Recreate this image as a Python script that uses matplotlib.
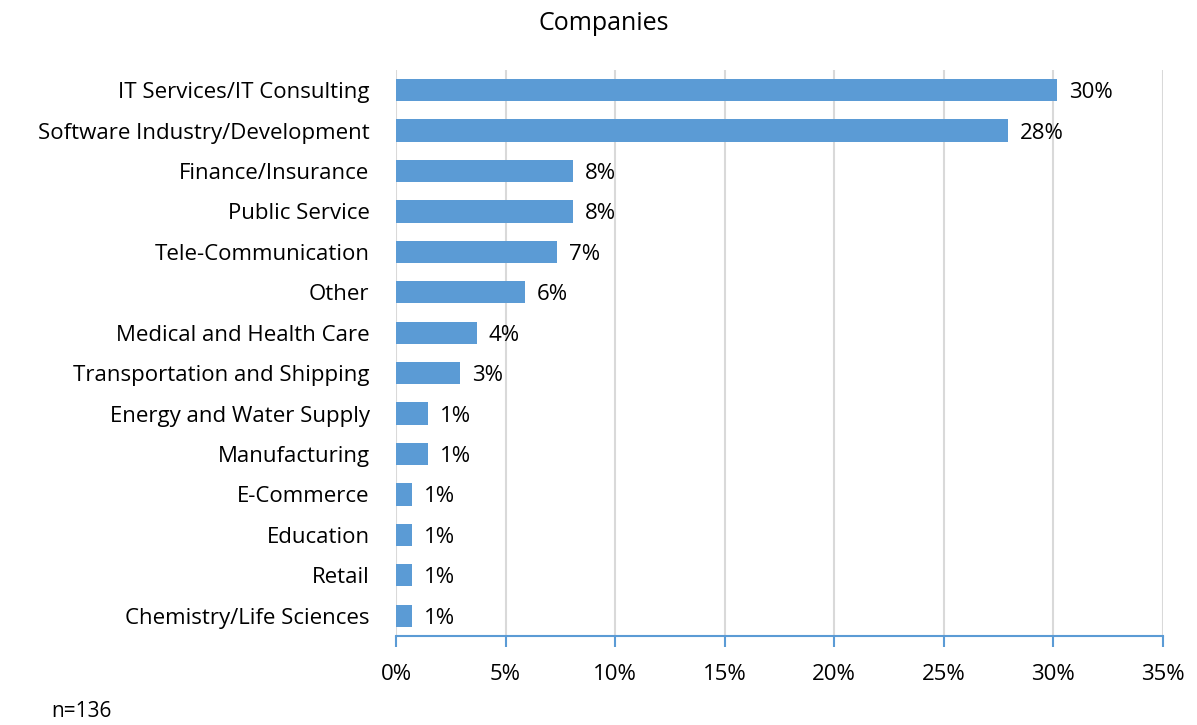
import matplotlib
matplotlib.use("Agg")
import matplotlib.pyplot as plt
from matplotlib.ticker import FuncFormatter

BLUE = "#5B9BD5"
GRID = "#D9D9D9"

N_TOTAL = 136
industries = [
    "IT Services/IT Consulting",
    "Software Industry/Development",
    "Finance/Insurance",
    "Public Service",
    "Tele-Communication",
    "Other",
    "Medical and Health Care",
    "Transportation and Shipping",
    "Energy and Water Supply",
    "Manufacturing",
    "E-Commerce",
    "Education",
    "Retail",
    "Chemistry/Life Sciences",
]
counts = [41, 38, 11, 11, 10, 8, 5, 4, 2, 2, 1, 1, 1, 1]
shares = [c / N_TOTAL * 100 for c in counts]
x_ticks = [0, 5, 10, 15, 20, 25, 30, 35]

plt.rcParams["font.family"] = ["Open Sans", "DejaVu Sans"]
FS = 16

fig = plt.figure(figsize=(11.97, 7.25), dpi=100)
ax = fig.add_axes([0.3308, 0.1228, 0.6408, 0.7807])

y = list(range(len(industries)))
ax.barh(y, shares, height=0.55, color=BLUE, zorder=3)
for yi, v in zip(y, shares):
    ax.text(v + 0.55, yi, f"{v:.0f}%", va="center_baseline", ha="left",
            fontsize=FS, color="black")

ax.set_ylim(len(industries) - 0.5, -0.5)
ax.set_xlim(0, 35)
ax.set_yticks(y)
ax.set_yticklabels(industries, fontsize=FS)
ax.set_xticks(x_ticks)
ax.xaxis.set_major_formatter(FuncFormatter(lambda v, _: f"{v:.0f}%"))
ax.tick_params(axis="x", labelsize=FS, length=8, width=1.5, color=BLUE,
               direction="out", pad=12)
ax.tick_params(axis="y", length=0, pad=19)

ax.grid(axis="x", color=GRID, linewidth=1.5, zorder=0)
for side in ("top", "right", "left"):
    ax.spines[side].set_visible(False)
ax.spines["bottom"].set_color(BLUE)
ax.spines["bottom"].set_linewidth(1.5)

fig.text(0.5046, 0.968, "Companies", ha="center", va="center", fontsize=18)
fig.text(0.043, 0.004, "n=136", ha="left", va="bottom", fontsize=15)

fig.savefig("out.png", dpi=100)
